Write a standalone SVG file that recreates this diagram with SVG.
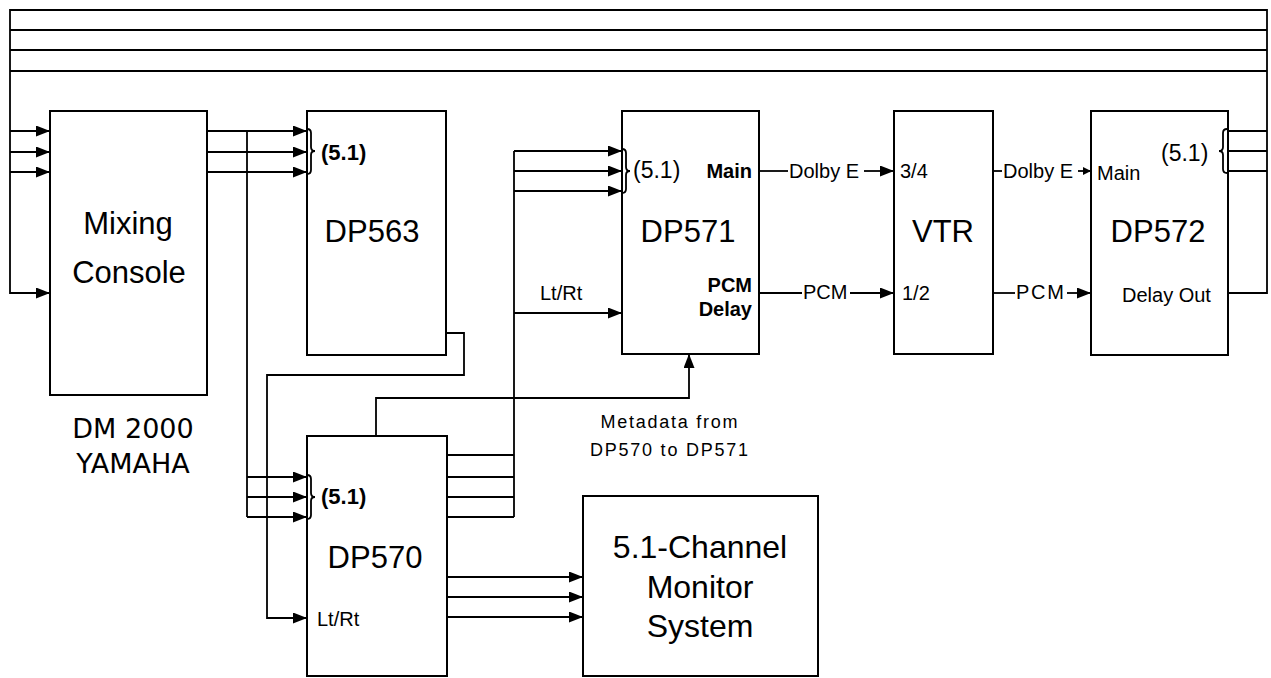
<svg xmlns="http://www.w3.org/2000/svg" width="1271" height="678" viewBox="0 0 1271 678">
<style>
.box{fill:none;stroke:#000;stroke-width:2}
.ln{fill:none;stroke:#000;stroke-width:1.8}
.ar{marker-end:url(#ah)}
.t{font-family:"Liberation Sans",Arial,sans-serif;fill:#000}
.big{font-size:31px;text-anchor:middle}
.lab{font-size:20px}
.b{font-weight:bold}
</style>
<defs>
<marker id="ah" markerWidth="14" markerHeight="11" refX="14" refY="5.5" orient="auto" markerUnits="userSpaceOnUse"><path d="M0,0 L14,5.5 L0,11 z" fill="#000"/></marker>
<marker id="ahs" markerWidth="8" markerHeight="8" refX="8" refY="4" orient="auto" markerUnits="userSpaceOnUse"><path d="M0,0 L8,4 L0,8 z" fill="#000"/></marker>
</defs>
<rect width="1271" height="678" fill="#fff"/>
<g id="mixing-console">
<rect class="box" x="50" y="111" width="157" height="284"/>
<text class="t big" x="128" y="234">Mixing</text>
<text class="t big" x="129" y="283">Console</text>
<text x="133" y="438" font-family="'DejaVu Sans',Verdana,sans-serif" font-size="27" text-anchor="middle">DM 2000</text>
<text x="133" y="473" font-family="'DejaVu Sans',Verdana,sans-serif" font-size="27" text-anchor="middle">YAMAHA</text>
</g>
<g id="dp563">
<rect class="box" x="307" y="111" width="139" height="244"/>
<text class="t b" x="321" y="160" font-size="22">(5.1)</text>
<text class="t big" x="372" y="242">DP563</text>
</g>
<g id="dp570">
<rect class="box" x="307" y="436" width="140" height="240"/>
<text class="t b" x="321" y="504" font-size="22">(5.1)</text>
<text class="t big" x="375" y="568">DP570</text>
<text class="t lab" x="317" y="626">Lt/Rt</text>
</g>
<g id="dp571">
<rect class="box" x="622" y="111" width="137" height="243"/>
<text class="t" x="633" y="178" font-size="23">(5.1)</text>
<text class="t lab b" x="752" y="178" text-anchor="end">Main</text>
<text class="t big" x="688" y="242">DP571</text>
<text class="t lab b" x="752" y="292" text-anchor="end">PCM</text>
<text class="t lab b" x="752" y="316" text-anchor="end">Delay</text>
</g>
<g id="vtr">
<rect class="box" x="894" y="111" width="99" height="243"/>
<text class="t lab" x="900" y="178">3/4</text>
<text class="t big" x="943" y="242">VTR</text>
<text class="t lab" x="902" y="300">1/2</text>
</g>
<g id="dp572">
<rect class="box" x="1091" y="111" width="137" height="244"/>
<text class="t" x="1161" y="161" font-size="23">(5.1)</text>
<text class="t lab" x="1097" y="180">Main</text>
<text class="t big" x="1158" y="242">DP572</text>
<text class="t lab" x="1122" y="302">Delay Out</text>
</g>
<g id="monitor">
<rect class="box" x="583" y="496" width="235" height="180"/>
<text class="t" x="700" y="558" font-size="32" text-anchor="middle">5.1-Channel</text>
<text class="t" x="700" y="598" font-size="32" text-anchor="middle">Monitor</text>
<text class="t" x="700" y="637" font-size="32" text-anchor="middle">System</text>
</g>
<g id="connectors">
<path class="ln ar" d="M1227,293 H1267 V10 H10 V293 H50"/>
<path class="ln" d="M10,30 H1267 M10,50 H1267 M10,71 H1267"/>
<path class="ln" d="M1227,131 H1267 M1227,151 H1267 M1227,171 H1267"/>
<path class="ln ar" d="M10,131 H50"/>
<path class="ln ar" d="M10,152 H50"/>
<path class="ln ar" d="M10,172 H50"/>
<path class="ln ar" d="M207,131 H307"/>
<path class="ln ar" d="M207,152 H307"/>
<path class="ln ar" d="M207,172 H307"/>
<path class="ln" d="M247,131 V517"/>
<path class="ln ar" d="M247,477 H307"/>
<path class="ln ar" d="M247,497 H307"/>
<path class="ln ar" d="M247,517 H307"/>
<path class="ln ar" d="M446,333 H464 V375 H267 V618 H307"/>
<path class="ln" d="M447,455 H514 M447,477 H514 M447,497 H514 M447,517 H514 M514,151 V517"/>
<path class="ln ar" d="M514,151 H622"/>
<path class="ln ar" d="M514,171 H622"/>
<path class="ln ar" d="M514,191 H622"/>
<path class="ln ar" d="M514,313 H622"/>
<path class="ln ar" d="M376,436 V398 H689 V354"/>
<path class="ln ar" d="M447,577 H583"/>
<path class="ln ar" d="M447,597 H583"/>
<path class="ln ar" d="M447,617 H583"/>
<path class="ln" d="M759,171 H788"/>
<path class="ln ar" d="M864,171 H894"/>
<path class="ln" d="M759,293 H802"/>
<path class="ln ar" d="M850,293 H894"/>
<path class="ln" d="M993,171 H1002"/>
<path class="ln" d="M1078,171 H1091" marker-end="url(#ahs)"/>
<path class="ln" d="M993,293 H1015"/>
<path class="ln ar" d="M1067,293 H1091"/>
<path class="ln" d="M307,129 q4,0 4,4 V147 q0,4 4,4 q-4,0 -4,4 V170 q0,4 -4,4"/>
<path class="ln" d="M307,475 q4,0 4,4 V493 q0,4 4,4 q-4,0 -4,4 V515 q0,4 -4,4"/>
<path class="ln" d="M622,149 q4,0 4,4 V167 q0,4 4,4 q-4,0 -4,4 V189 q0,4 -4,4"/>
<path class="ln" d="M1227,129 q-4,0 -4,4 V147 q0,4 -4,4 q4,0 4,4 V169 q0,4 4,4"/>
<text class="t lab" x="789" y="178">Dolby E</text>
<text class="t lab" x="803" y="299">PCM</text>
<text class="t lab" x="1003" y="178">Dolby E</text>
<text class="t lab" x="1016" y="299" textLength="48" lengthAdjust="spacing">PCM</text>
<text class="t lab" x="540" y="300">Lt/Rt</text>
<text class="t" x="669" y="428" font-size="18" text-anchor="middle" textLength="137" lengthAdjust="spacing">Metadata from</text>
<text class="t" x="669" y="456" font-size="18" text-anchor="middle" textLength="158" lengthAdjust="spacing">DP570 to DP571</text>
</g>
</svg>
